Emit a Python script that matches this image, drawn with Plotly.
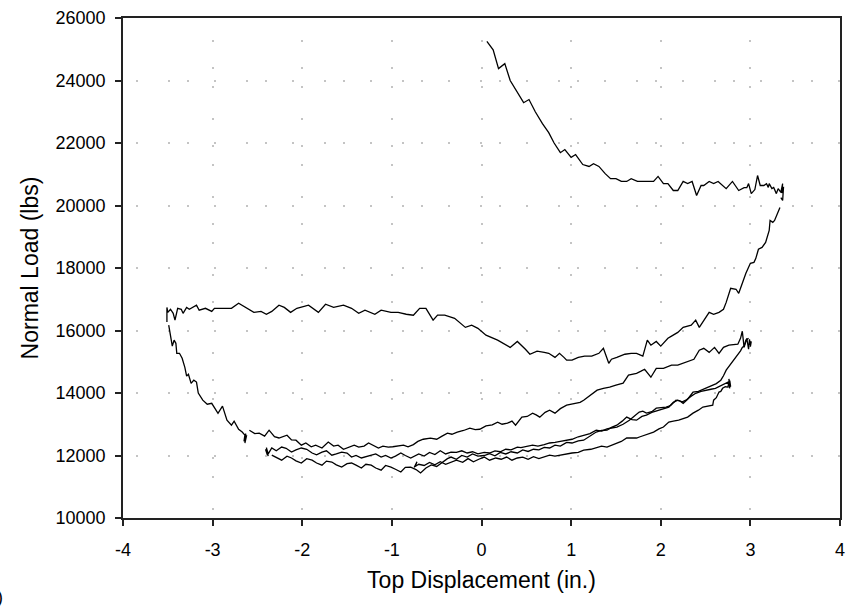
import plotly.graph_objects as go

# Load–displacement history, split into the successive loading branches.
initial_x = [0.06, 0.13, 0.19, 0.26, 0.32, 0.40, 0.47, 0.53, 0.60, 0.68, 0.75, 0.81, 0.88, 0.93, 1.00, 1.05,
             1.13, 1.20, 1.25, 1.31, 1.38, 1.44, 1.50, 1.56, 1.62, 1.67, 1.74, 1.80, 1.86, 1.92, 1.97, 2.03,
             2.08, 2.14, 2.19, 2.25, 2.30, 2.35, 2.40, 2.45, 2.48, 2.54, 2.59, 2.64, 2.73, 2.80, 2.87, 2.93,
             2.96, 2.98, 3.01, 3.05, 3.08, 3.11, 3.15, 3.18, 3.20, 3.21, 3.24, 3.26, 3.29, 3.31, 3.34, 3.36,
             3.35, 3.37, 3.36, 3.34]
initial_y = [25250, 24980, 24380, 24540, 24000, 23610, 23290, 23390, 23000, 22620, 22330, 22000, 21690, 21790,
             21540, 21630, 21310, 21250, 21340, 21250, 21020, 20860, 20860, 20770, 20770, 20860, 20770, 20770,
             20770, 20770, 20930, 20700, 20700, 20480, 20480, 20770, 20700, 20770, 20320, 20640, 20640, 20770,
             20700, 20770, 20540, 20770, 20480, 20570, 20570, 20700, 20380, 20510, 20960, 20640, 20640, 20700,
             20580, 20700, 20540, 20580, 20380, 20540, 20420, 20700, 20400, 20600, 20160, 20250]

unload1_x = [3.33, 3.30, 3.27, 3.25, 3.22, 3.21, 3.17, 3.13, 3.09, 3.06, 3.04, 3.00, 2.95, 2.91, 2.87, 2.84,
             2.78, 2.73, 2.70, 2.65, 2.59, 2.54, 2.48, 2.43, 2.39, 2.34, 2.25, 2.19, 2.12, 2.08, 2.00, 1.95,
             1.89, 1.85, 1.80, 1.73, 1.67, 1.60, 1.51, 1.45, 1.42, 1.36, 1.31, 1.23, 1.15, 1.08, 1.01, 0.95,
             0.92, 0.87, 0.82, 0.75, 0.70, 0.62, 0.54, 0.49, 0.40, 0.32, 0.18, 0.05, -0.04, -0.11, -0.18, -0.23,
             -0.30, -0.41, -0.49, -0.54, -0.62, -0.69, -0.76, -0.84, -0.93, -1.01, -1.12, -1.19, -1.30, -1.37,
             -1.45, -1.54, -1.65, -1.74, -1.82, -1.93, -2.06, -2.13, -2.20, -2.26, -2.34, -2.40, -2.46, -2.54,
             -2.63, -2.71, -2.79, -2.87, -2.98, -3.01, -3.08, -3.15, -3.18, -3.26, -3.29, -3.33, -3.35, -3.39,
             -3.42, -3.44, -3.47, -3.50, -3.51, -3.51]
unload1_y = [19940, 19750, 19520, 19460, 19520, 19200, 18820, 18660, 18600, 18300, 18180, 18150, 17830, 17510,
             17190, 17320, 17350, 16900, 16680, 16580, 16520, 16580, 16330, 16100, 16330, 16170, 16100, 15940,
             15820, 15750, 15500, 15650, 15530, 15690, 15180, 15270, 15270, 15240, 15140, 15080, 14950, 15430,
             15270, 15180, 15180, 15140, 15050, 15050, 15140, 15270, 15140, 15270, 15300, 15340, 15240, 15400,
             15650, 15460, 15690, 15850, 16070, 16170, 16100, 16230, 16390, 16490, 16490, 16330, 16710, 16710,
             16490, 16520, 16580, 16580, 16650, 16520, 16650, 16550, 16710, 16810, 16740, 16840, 16580, 16810,
             16710, 16580, 16740, 16810, 16610, 16520, 16610, 16580, 16740, 16870, 16710, 16710, 16710, 16610,
             16710, 16650, 16810, 16680, 16740, 16550, 16680, 16710, 16330, 16550, 16680, 16580, 16740, 16270]

reload1_x = [-3.49, -3.47, -3.45, -3.43, -3.41, -3.40, -3.37, -3.34, -3.31, -3.29, -3.27, -3.24, -3.21, -3.18,
             -3.16, -3.11, -3.06, -3.01, -2.98, -2.94, -2.89, -2.84, -2.79, -2.76, -2.71, -2.67, -2.64, -2.65,
             -2.63, -2.64, -2.62]
reload1_y = [16170, 15790, 15500, 15690, 15590, 15270, 15270, 15110, 14820, 14540, 14600, 14310, 14410, 14350,
             14000, 13770, 13640, 13670, 13550, 13350, 13580, 13130, 12970, 13100, 12840, 12750, 12650, 12450,
             12700, 12400, 12650]

cycle2_x = [-2.59, -2.53, -2.48, -2.42, -2.37, -2.31, -2.26, -2.17, -2.12, -2.07, -2.01, -1.96, -1.90, -1.85,
            -1.78, -1.71, -1.65, -1.60, -1.54, -1.48, -1.42, -1.37, -1.31, -1.26, -1.20, -1.15, -1.10, -1.04,
            -0.99, -0.93, -0.87, -0.82, -0.76, -0.71, -0.65, -0.57, -0.50, -0.44, -0.38, -0.33, -0.27, -0.20,
            -0.13, -0.07, -0.02, 0.05, 0.12, 0.18, 0.23, 0.29, 0.34, 0.38, 0.45, 0.51, 0.57, 0.61, 0.65, 0.71,
            0.76, 0.82, 0.88, 0.95, 1.00, 1.06, 1.10, 1.14, 1.20, 1.25, 1.29, 1.36, 1.43, 1.50, 1.58, 1.64,
            1.69, 1.73, 1.78, 1.82, 1.89, 1.95, 2.03, 2.08, 2.12, 2.19, 2.28, 2.37, 2.43, 2.48, 2.54, 2.60,
            2.65, 2.70, 2.76, 2.81, 2.86, 2.89, 2.91, 2.93, 2.96, 2.98, 2.99, 3.00, 3.01, 3.00]
cycle2_y = [12810, 12700, 12715, 12620, 12810, 12600, 12560, 12650, 12500, 12490, 12330, 12400, 12280, 12330,
            12240, 12430, 12300, 12330, 12200, 12270, 12330, 12270, 12300, 12400, 12300, 12240, 12300, 12270,
            12280, 12300, 12330, 12280, 12350, 12450, 12520, 12556, 12520, 12620, 12716, 12680, 12750, 12800,
            12876, 12830, 12840, 12950, 12980, 13067, 13000, 13035, 13100, 12970, 13227, 13250, 13355, 13300,
            13227, 13380, 13450, 13355, 13500, 13610, 13640, 13674, 13700, 13770, 13900, 14000, 14090, 14150,
            14185, 14250, 14313, 14570, 14600, 14630, 14700, 14760, 14505, 14790, 14790, 14850, 14890, 14890,
            14985, 15080, 15370, 15430, 15300, 15460, 15270, 15460, 15530, 15540, 15560, 15750, 15975, 15460,
            15750, 15400, 15720, 15530, 15650, 15480]

unload2_x = [2.98, 2.95, 2.93, 2.91, 2.89, 2.87, 2.84, 2.82, 2.80, 2.78, 2.76, 2.73, 2.70, 2.67, 2.62, 2.58,
             2.52, 2.47, 2.42, 2.36, 2.30, 2.25, 2.21, 2.17, 2.11, 2.06, 2.00, 1.95, 1.90, 1.84, 1.80, 1.76,
             1.70, 1.65, 1.58, 1.51, 1.45, 1.40, 1.34, 1.28, 1.21, 1.14, 1.08, 1.01, 0.95, 0.88, 0.82, 0.76,
             0.70, 0.63, 0.57, 0.50, 0.44, 0.40, 0.33, 0.27, 0.21, 0.15, 0.09, 0.03, -0.04, -0.10, -0.16, -0.22,
             -0.28, -0.34, -0.40, -0.46, -0.52, -0.58, -0.64, -0.70, -0.79, -0.85, -0.90, -0.96, -1.01, -1.07,
             -1.12, -1.18, -1.23, -1.29, -1.34, -1.40, -1.45, -1.50, -1.56, -1.62, -1.67, -1.73, -1.78, -1.84,
             -1.89, -1.95, -2.01, -2.07, -2.12, -2.18, -2.23, -2.29, -2.34, -2.38, -2.40, -2.38, -2.41, -2.39]
unload2_y = [15750, 15690, 15500, 15460, 15350, 15270, 15140, 15050, 14985, 14900, 14825, 14730, 14550, 14410,
             14300, 14250, 14150, 14090, 14050, 14030, 13800, 13670, 13750, 13770, 13600, 13550, 13530, 13515,
             13400, 13355, 13420, 13390, 13250, 13130, 13000, 12910, 12880, 12850, 12780, 12810, 12700, 12650,
             12600, 12520, 12480, 12450, 12420, 12400, 12350, 12300, 12330, 12280, 12250, 12270, 12180, 12200,
             12120, 12150, 12080, 12100, 12050, 12120, 12080, 12150, 12100, 12110, 12050, 12150, 12030, 12100,
             11980, 12050, 11920, 12000, 12080, 11980, 11920, 12000, 11950, 12050, 12010, 11950, 11920, 12000,
             11950, 12080, 12110, 12050, 12010, 12150, 12110, 12020, 12080, 12200, 12240, 12180, 12110, 12230,
             12270, 12150, 12240, 12050, 12250, 11980, 12200, 12020]

cycle3_x = [-2.34, -2.28, -2.23, -2.17, -2.12, -2.07, -2.01, -1.95, -1.89, -1.84, -1.78, -1.73, -1.67, -1.62,
            -1.56, -1.50, -1.45, -1.40, -1.34, -1.29, -1.23, -1.18, -1.12, -1.07, -1.01, -0.96, -0.90, -0.85,
            -0.79, -0.73, -0.68, -0.62, -0.56, -0.50, -0.44, -0.38, -0.34, -0.28, -0.22, -0.16, -0.10, -0.04,
            0.03, 0.09, 0.15, 0.21, 0.27, 0.33, 0.40, 0.46, 0.52, 0.58, 0.64, 0.70, 0.76, 0.82, 0.88, 0.95,
            1.01, 1.08, 1.14, 1.20, 1.28, 1.34, 1.40, 1.45, 1.51, 1.57, 1.62, 1.68, 1.73, 1.79, 1.84, 1.90,
            1.97, 2.03, 2.09, 2.14, 2.19, 2.24, 2.28, 2.34, 2.39, 2.45, 2.50, 2.56, 2.61, 2.65, 2.69, 2.72,
            2.75, 2.77, 2.76, 2.78, 2.77]
cycle3_y = [12010, 11920, 11850, 11980, 11920, 11830, 11760, 11900, 11850, 11760, 11690, 11820, 11790, 11700,
            11630, 11740, 11760, 11690, 11600, 11720, 11690, 11600, 11530, 11680, 11630, 11560, 11470, 11620,
            11630, 11550, 11440, 11600, 11700, 11650, 11780, 11900, 11950, 11880, 12000, 11950, 12050, 11980,
            12000, 12060, 11990, 12100, 12050, 12120, 12080, 12180, 12130, 12200, 12180, 12260, 12240, 12330,
            12300, 12420, 12400, 12470, 12490, 12600, 12750, 12800, 12810, 12900, 12970, 13100, 13230, 13150,
            13130, 13250, 13290, 13380, 13450, 13500, 13550, 13700, 13770, 13720, 13770, 13900, 13990, 14050,
            14090, 14120, 14150, 14200, 14250, 14300, 14350, 14150, 14450, 14200, 14400]

unload3_x = [2.76, 2.75, 2.72, 2.69, 2.67, 2.65, 2.62, 2.59, 2.58, 2.53, 2.47, 2.42, 2.36, 2.30, 2.25, 2.20,
             2.14, 2.09, 2.03, 1.98, 1.92, 1.86, 1.81, 1.77, 1.73, 1.67, 1.62, 1.56, 1.51, 1.45, 1.40, 1.34,
             1.28, 1.22, 1.14, 1.08, 1.01, 0.95, 0.88, 0.82, 0.76, 0.70, 0.64, 0.58, 0.52, 0.46, 0.40, 0.34,
             0.28, 0.22, 0.16, 0.09, 0.03, -0.03, -0.09, -0.15, -0.21, -0.28, -0.34, -0.40, -0.46, -0.52, -0.58,
             -0.64, -0.70, -0.74, -0.72, -0.75, -0.73, -0.74]
unload3_y = [14350, 14190, 14200, 14150, 14050, 14030, 13850, 13770, 13610, 13580, 13550, 13450, 13355, 13230,
             13180, 13130, 13100, 13070, 12910, 12850, 12750, 12700, 12650, 12600, 12560, 12560, 12560, 12450,
             12400, 12330, 12270, 12300, 12240, 12200, 12170, 12100, 12080, 12050, 12020, 11980, 12010, 11950,
             11900, 11960, 11880, 11950, 11920, 11850, 11950, 11880, 11920, 11850, 11950, 11880, 11800, 11900,
             11780, 11850, 11790, 11720, 11800, 11700, 11780, 11680, 11720, 11650, 11800, 11620, 11780, 11680]

branches = [
    (initial_x, initial_y),
    (unload1_x, unload1_y),
    (reload1_x, reload1_y),
    (cycle2_x, cycle2_y),
    (unload2_x, unload2_y),
    (cycle3_x, cycle3_y),
    (unload3_x, unload3_y),
]

x_ticks = [-4, -3, -2, -1, 0, 1, 2, 3, 4]
y_ticks = [10000, 12000, 14000, 16000, 18000, 20000, 22000, 24000, 26000]

fig = go.Figure()
for bx, by in branches:
    fig.add_trace(go.Scatter(x=bx, y=by, mode="lines",
                             line=dict(color="black", width=1.3),
                             showlegend=False, hoverinfo="skip"))

tick_font = dict(family="Liberation Sans, Arial, sans-serif", size=18, color="black")
title_font = dict(family="Liberation Sans, Arial, sans-serif", size=23, color="black")
axis_common = dict(
    showline=True, linecolor="#222", linewidth=1.5, mirror=True,
    ticks="outside", ticklen=6, tickcolor="#222", tickwidth=1.5,
    showgrid=True, gridcolor="#c4c4c4", gridwidth=1.5,
    zeroline=False, tickfont=tick_font,
)

fig.update_xaxes(range=[-4, 4], tickvals=x_ticks, ticktext=[str(v) for v in x_ticks],
                 griddash="0px,22px,2px,25px,2px,17px,2px,8px",
                 ticklabelstandoff=9,
                 title=dict(text="Top Displacement (in.)", font=title_font, standoff=13),
                 **axis_common)
fig.update_yaxes(range=[10000, 26000], tickvals=y_ticks, ticktext=[str(v) for v in y_ticks],
                 griddash="0px,13px,2px,30px,2px,17px,2px,12px",
                 ticklabelstandoff=6,
                 title=dict(text="Normal Load (lbs)", font=title_font, standoff=11),
                 **axis_common)

fig.add_annotation(text="(a)", xref="paper", yref="paper", x=-0.165, y=-0.158,
                   xanchor="right", yanchor="middle", showarrow=False, font=tick_font)

fig.update_layout(
    width=853, height=612,
    margin=dict(l=123, r=8, t=17, b=94),
    paper_bgcolor="white", plot_bgcolor="white",
    font=tick_font,
)

fig.write_html("out.html")
